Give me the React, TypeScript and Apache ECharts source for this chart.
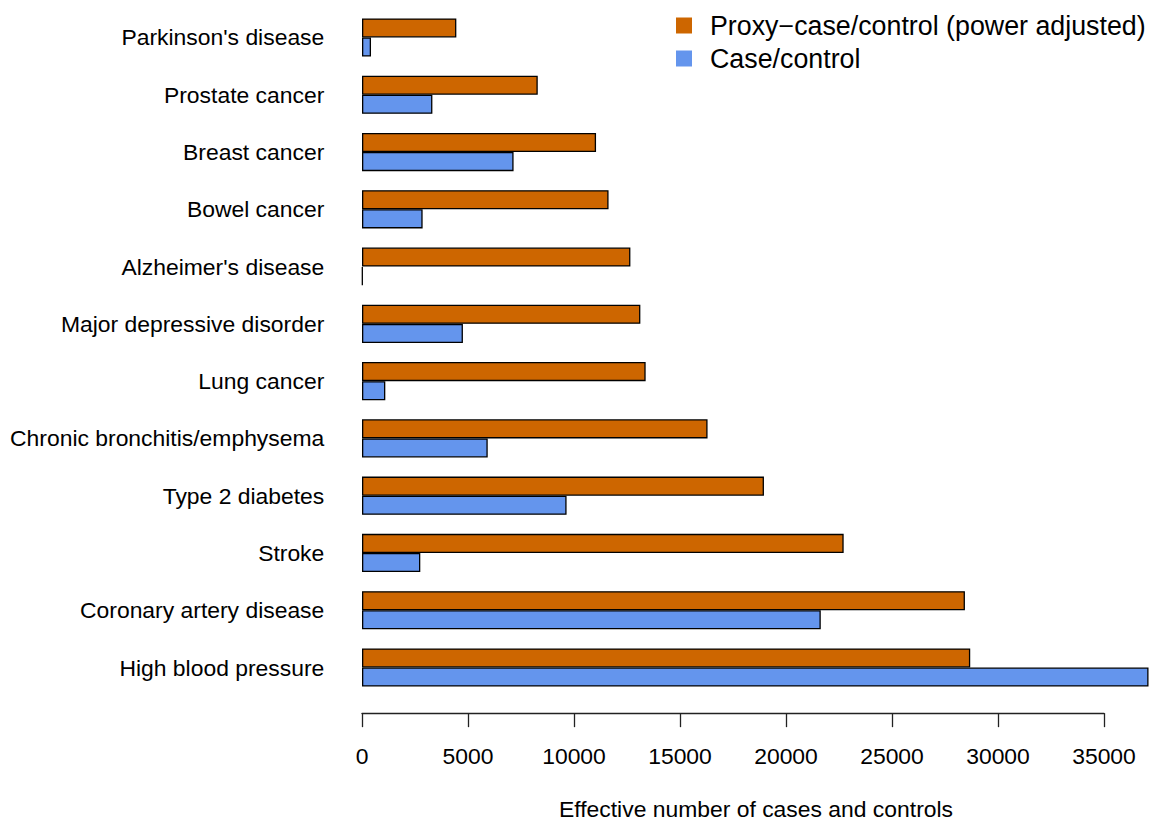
import React, { useEffect, useRef } from "react";
import * as echarts from "echarts";

const categories = [
  "Parkinson's disease",
  "Prostate cancer",
  "Breast cancer",
  "Bowel cancer",
  "Alzheimer's disease",
  "Major depressive disorder",
  "Lung cancer",
  "Chronic bronchitis/emphysema",
  "Type 2 diabetes",
  "Stroke",
  "Coronary artery disease",
  "High blood pressure",
];
const proxyValues = [4450, 8290, 11040, 11630, 12660, 13130, 13380, 16300, 18960, 22720, 28440, 28690];
const caseControlValues = [425, 3320, 7150, 2860, 30, 4760, 1100, 5930, 9650, 2750, 21640, 37100];
const seriesNames = ["Proxy\u2212case/control (power adjusted)", "Case/control"];
const xTicks = { min: 0, max: 35000, interval: 5000 };
const xTitle = "Effective number of cases and controls";

const FONT = "Liberation Sans, Arial, Helvetica, sans-serif";
const FS = 22.9;
const LFS = 26.8;

export default function App() {
  const ref = useRef<HTMLDivElement>(null);
  useEffect(() => {
    if (!ref.current) return;
    const chart = echarts.init(ref.current, undefined, { renderer: "svg" });
    chart.setOption({
      animation: false,
      textStyle: { fontFamily: FONT },
      grid: { left: 362, right: 46, top: 8.85, bottom: 124.85, containLabel: false },
      legend: {
        orient: "vertical",
        left: 676,
        top: 12,
        padding: 0,
        itemWidth: 16,
        itemHeight: 16,
        itemGap: 6,
        icon: "rect",
        textStyle: { fontSize: LFS, color: "#000", fontFamily: FONT, padding: [0, 0, 0, 13] },
        itemStyle: { borderWidth: 0 },
        data: seriesNames,
      },
      xAxis: {
        type: "value",
        min: xTicks.min,
        max: xTicks.max,
        interval: xTicks.interval,
        offset: 17,
        axisLine: { show: true, lineStyle: { color: "#222", width: 1.3 } },
        axisTick: { show: true, length: 14, lineStyle: { color: "#222", width: 1.3 } },
        axisLabel: {
          fontSize: FS,
          color: "#000",
          margin: 31,
          fontFamily: FONT,
          showMinLabel: true,
          showMaxLabel: true,
          formatter: (v: number) => String(v),
        },
        splitLine: { show: false },
      },
      yAxis: {
        type: "category",
        data: categories,
        inverse: true,
        axisLine: { show: false },
        axisTick: { show: false },
        axisLabel: { fontSize: FS, color: "#000", margin: 37.7, fontFamily: FONT },
        splitLine: { show: false },
      },
      series: [
        {
          name: seriesNames[0],
          type: "bar",
          data: proxyValues,
          barWidth: 19.1,
          barGap: "0%",
          clip: false,
          itemStyle: { color: "#CD6600", borderColor: "#000", borderWidth: 1.3 },
        },
        {
          name: seriesNames[1],
          type: "bar",
          data: caseControlValues,
          barWidth: 19.1,
          barGap: "0%",
          clip: false,
          itemStyle: { color: "#6495ED", borderColor: "#000", borderWidth: 1.3 },
        },
      ],
      graphic: [
        {
          type: "text",
          x: 756,
          y: 809,
          style: {
            text: xTitle,
            fontSize: FS,
            fill: "#000",
            fontFamily: FONT,
            textAlign: "center",
            textVerticalAlign: "middle",
          },
        },
      ],
    });
    return () => chart.dispose();
  }, []);
  return (
    <div
      ref={ref}
      style={{ position: "absolute", left: 0, top: 0, width: 1150, height: 821, background: "#fff" }}
    />
  );
}
